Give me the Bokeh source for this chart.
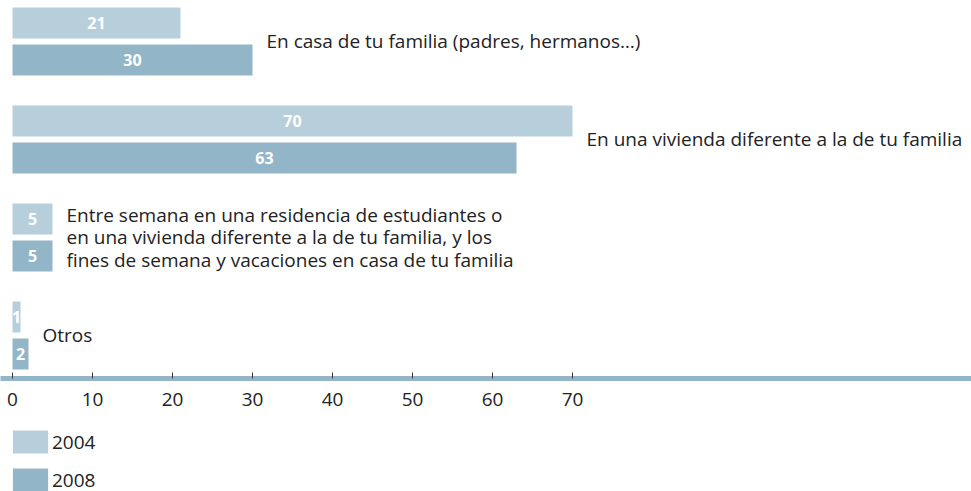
from bokeh.plotting import figure
from bokeh.layouts import column
from bokeh.models import Range1d, FixedTicker, Legend, LegendItem, ColumnDataSource
from bokeh.core.properties import value
from bokeh.embed import file_html
from bokeh.resources import INLINE

categories = [
    "En casa de tu familia (padres, hermanos…)",
    "En una vivienda diferente a la de tu familia",
    "Entre semana en una residencia de estudiantes o\nen una vivienda diferente a la de tu familia, y los\nfines de semana y vacaciones en casa de tu familia",
    "Otros",
]
v2004 = [21, 70, 5, 1]
v2008 = [30, 63, 5, 2]
ticks = [0, 10, 20, 30, 40, 50, 60, 70]
series = ["2004", "2008"]

C04 = "#b7cfdb"
C08 = "#93b5c8"
FONT = "Open Sans"
TXT = "#222222"

idx = list(range(len(categories)))
off = 0.189
bh = 0.316

src04 = ColumnDataSource(dict(y=[i - off for i in idx], v=v2004, mid=[v / 2 for v in v2004], lab=[str(v) for v in v2004]))
src08 = ColumnDataSource(dict(y=[i + off for i in idx], v=v2008, mid=[v / 2 for v in v2008], lab=[str(v) for v in v2008]))
srccat = ColumnDataSource(dict(y=idx, x=[max(a, b) for a, b in zip(v2004, v2008)], t=categories))

p = figure(width=971, height=424, output_backend="svg", toolbar_location=None,
           x_range=Range1d(-1.5, -1.5 + 971 / 8), y_range=Range1d(3.439, -0.418),
           min_border=0, min_border_left=0, min_border_right=0, min_border_top=0,
           min_border_bottom=46, outline_line_color=None)
p.grid.visible = False
p.yaxis.visible = False

p.hbar(y="y", left=0, right="v", height=bh, source=src04, fill_color=C04, line_color=None)
p.hbar(y="y", left=0, right="v", height=bh, source=src08, fill_color=C08, line_color=None)

for s in (src04, src08):
    p.text(x="mid", y="y", text="lab", source=s, text_color="white", text_font=value(FONT),
           text_font_style="bold", text_font_size="16px", text_align="center", text_baseline="middle")

p.text(x="x", y="y", text="t", source=srccat, x_offset=14, text_color=TXT, text_font=value(FONT),
       text_font_size="19px", text_align="left", text_baseline="middle", text_line_height=0.85)

ax = p.xaxis[0]
ax.ticker = FixedTicker(ticks=ticks)
ax.axis_line_color = C08
ax.axis_line_width = 5
ax.major_tick_in = 6
ax.major_tick_out = 0
ax.major_tick_line_color = "#333333"
ax.minor_tick_line_color = None
ax.major_label_standoff = 14
ax.major_label_text_font = FONT
ax.major_label_text_font_size = "19px"
ax.major_label_text_color = TXT

# legend strip (its renderers share the data but lie outside this strip's ranges)
q = figure(width=971, height=67, output_backend="svg", toolbar_location=None,
           x_range=Range1d(0, 1), y_range=Range1d(100, 101), x_axis_type=None, y_axis_type=None,
           min_border=0, min_border_left=0, min_border_right=0, min_border_top=0,
           min_border_bottom=0, outline_line_color=None)
q.grid.visible = False
l04 = q.hbar(y="y", left=0, right="v", height=bh, source=src04, fill_color=C04, line_color=None)
l08 = q.hbar(y="y", left=0, right="v", height=bh, source=src08, fill_color=C08, line_color=None)

legend = Legend(items=[LegendItem(label=series[0], renderers=[l04]), LegendItem(label=series[1], renderers=[l08])],
                location=(8, -3), orientation="vertical", glyph_width=44, glyph_height=29,
                spacing=9, padding=0, margin=0, label_text_font=FONT, label_text_font_size="19px",
                label_text_color=TXT, label_standoff=0, border_line_color=None, background_fill_alpha=0,
                label_height=29)
q.add_layout(legend, "center")

layout = column(p, q, spacing=0)
open("out.html", "w").write(file_html(layout, INLINE))
